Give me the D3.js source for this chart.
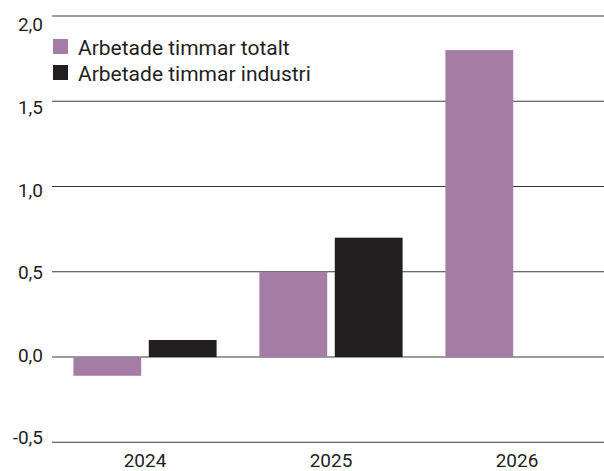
<!DOCTYPE html>
<html>
<head>
<meta charset="utf-8">
<script src="https://cdn.jsdelivr.net/npm/d3@7"></script>
<style>
  html, body { margin: 0; padding: 0; background: #fff; }
  svg { display: block; }
  text { font-family: Roboto, "Liberation Sans", sans-serif; fill: #231f20; }
</style>
</head>
<body>
<svg id="chart" width="604" height="471"></svg>
<script>
const years = ["2024", "2025", "2026"];
const seriesNames = ["Arbetade timmar totalt", "Arbetade timmar industri"];
const totalt = [-0.11, 0.5, 1.8];
const industri = [0.1, 0.7, null];
const yTicks = [-0.5, 0, 0.5, 1.0, 1.5, 2.0];
const colors = ["#a57ca5", "#231f20"];

const svg = d3.select("#chart");
const W = 604, H = 471;

const y = d3.scaleLinear().domain([-0.5, 2.0]).range([442.3, 16]);
const yLabel = d3.scaleLinear().domain([-0.5, 2.0]).range([437.5, 24.8]);
const x0 = d3.scaleBand().domain(years).range([52, 610]).paddingInner(0.23).paddingOuter(0.115);
const x1 = d3.scaleBand().domain(seriesNames).range([0, x0.bandwidth()]).paddingInner(0.1);

// gridlines
svg.append("g").selectAll("line").data(yTicks).join("line")
  .attr("x1", 52).attr("x2", W)
  .attr("y1", d => y(d)).attr("y2", d => y(d))
  .attr("stroke", "#3a3a3a").attr("stroke-width", 1.1);

// tick labels
svg.append("g").selectAll("text").data(yTicks).join("text")
  .attr("x", 43).attr("y", d => yLabel(d))
  .attr("dy", "0.35em")
  .attr("text-anchor", "end")
  .attr("font-size", 19)
  .text(d => d3.format(".1f")(d).replace(".", ",").replace("\u2212", "-"));

// bars
const data = years.map((yr, i) => ({ year: yr, values: [totalt[i], industri[i]] }));
const groups = svg.append("g").selectAll("g").data(data).join("g")
  .attr("transform", d => `translate(${x0(d.year)},0)`);
groups.selectAll("rect")
  .data(d => d.values.map((v, j) => ({ key: seriesNames[j], v, j })).filter(e => e.v !== null))
  .join("rect")
  .attr("x", d => x1(d.key))
  .attr("width", x1.bandwidth())
  .attr("y", d => y(Math.max(0, d.v)))
  .attr("height", d => Math.abs(y(d.v) - y(0)))
  .attr("fill", d => colors[d.j]);

// x labels
svg.append("g").selectAll("text").data(years).join("text")
  .attr("x", d => x0(d) + x0.bandwidth() / 2)
  .attr("y", 466.5)
  .attr("text-anchor", "middle")
  .attr("font-size", 19)
  .text(d => d);

// legend
const leg = svg.append("g").selectAll("g").data(seriesNames).join("g")
  .attr("transform", (d, i) => `translate(53,${39 + i * 26})`);
leg.append("rect").attr("width", 15).attr("height", 15).attr("fill", (d, i) => colors[i]);
leg.append("text").attr("x", 25).attr("y", 16).attr("font-size", 21).text(d => d);
</script>
</body>
</html>
